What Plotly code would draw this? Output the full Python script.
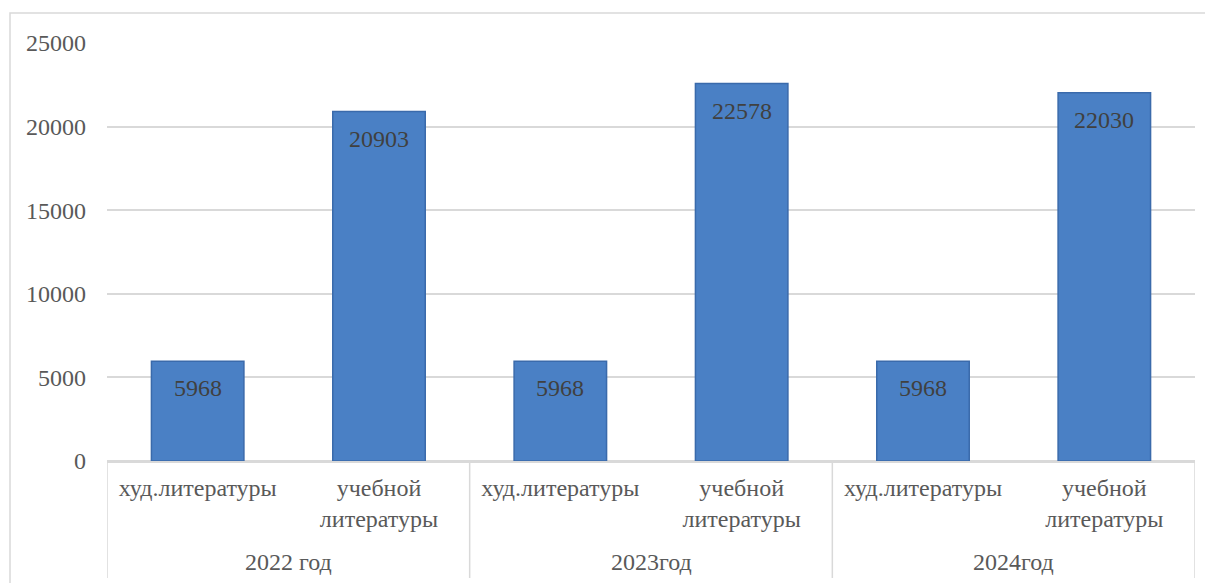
import plotly.graph_objects as go

years = ["2022 год", "2023год", "2024год"]
kinds = ["худ.литературы", "учебной<br>литературы"]
values = [5968, 20903, 5968, 22578, 5968, 22030]
y_ticks = [0, 5000, 10000, 15000, 20000, 25000]

FONT = "'Liberation Serif', 'Times New Roman', 'DejaVu Serif', serif"
FS = 24
OFF = 8  # page body margin
W, H = 1213 - OFF, 583 - OFF
L, R, T, B = 107 - OFF, 18, 43 - OFF, 122
pw, ph = W - L - R, H - T - B

n = len(values)
xs = list(range(n))
tick_text = [kinds[i % len(kinds)] for i in xs]

fig = go.Figure()
fig.add_trace(go.Bar(
    x=xs, y=values,
    marker=dict(color="#4a80c5", line=dict(color="#3a6aab", width=1.5)),
    hoverinfo="y",
))

for i, v in enumerate(values):
    fig.add_annotation(x=i, y=v, text=str(v), showarrow=False, yanchor="middle",
                       yshift=-27, font=dict(family=FONT, size=FS, color="#404040"))

ng = len(years)
per = n // ng
for g, yr in enumerate(years):
    fig.add_annotation(x=g * per + (per - 1) / 2, y=-(562 - 461) / ph, xref="x", yref="paper",
                       text=yr, showarrow=False, yanchor="middle",
                       font=dict(family=FONT, size=FS, color="#595959"))
for g in range(ng + 1):
    fig.add_shape(type="line", xref="x", yref="paper", x0=g * per - 0.5, x1=g * per - 0.5,
                  y0=0, y1=-(578 - 461) / ph, line=dict(color="#d9d9d9", width=1.5))

fig.update_layout(
    width=W, height=H,
    margin=dict(l=L, r=R, t=T, b=B),
    plot_bgcolor="white", paper_bgcolor="white",
    bargap=0.49, showlegend=False,
    font=dict(family=FONT, size=FS, color="#595959"),
)
fig.update_yaxes(
    range=[0, 25000], tickvals=y_ticks, ticktext=[str(t) for t in y_ticks],
    showgrid=True, gridcolor="#d9d9d9", gridwidth=1.5,
    zeroline=True, zerolinecolor="#d9d9d9", zerolinewidth=1.5, showline=False,
    ticks="", ticklabelstandoff=20, tickfont=dict(family=FONT, size=FS, color="#595959"),
)
fig.update_xaxes(
    range=[-0.5, n - 0.5], tickvals=xs, ticktext=tick_text, tickangle=0,
    showline=True, linecolor="#d9d9d9", linewidth=1.5, showgrid=False, zeroline=False,
    ticks="", ticklabelstandoff=4, tickfont=dict(family=FONT, size=FS, color="#595959"),
)
# outer chart border
fig.add_shape(type="rect", xref="paper", yref="paper",
              x0=(10 - 107) / pw, x1=(1220 - 107) / pw,
              y0=-(600 - 461) / ph, y1=(461 - 13) / ph,
              line=dict(color="#d9d9d9", width=1.5), fillcolor="rgba(0,0,0,0)", layer="below")
fig.write_html("out.html")
